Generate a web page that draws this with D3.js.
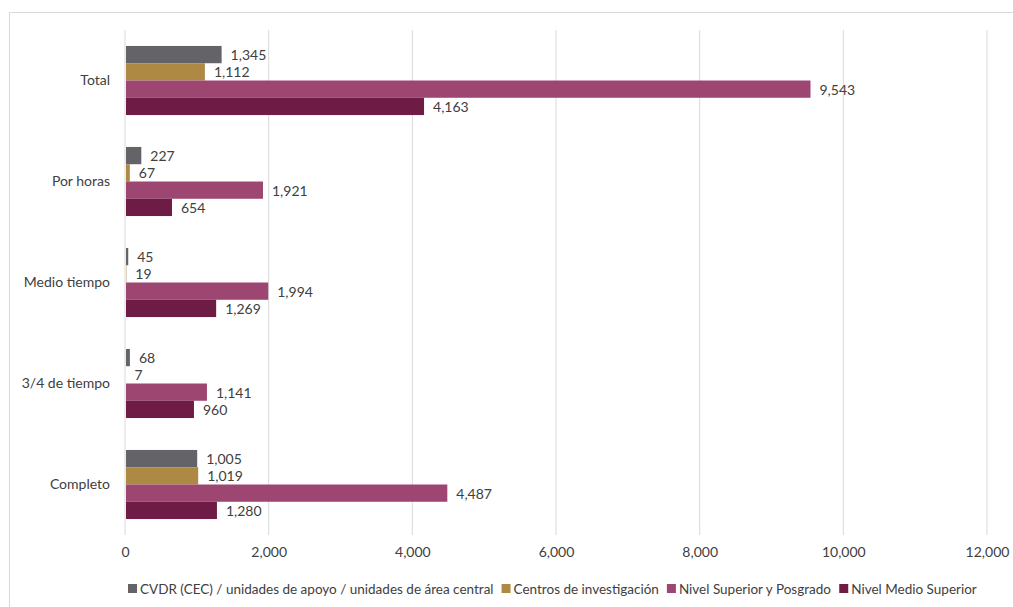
<!DOCTYPE html>
<html><head><meta charset="utf-8">
<script src="https://cdn.jsdelivr.net/npm/d3@7"></script>
<style>body{margin:0;background:#fff}svg{display:block}</style>
</head><body>
<svg id="c" width="1013" height="607"></svg>
<script>
const categories = ["Total","Por horas","Medio tiempo","3/4 de tiempo","Completo"];
const seriesNames = ["CVDR (CEC)  / unidades de apoyo / unidades de área central","Centros de investigación","Nivel Superior y Posgrado","Nivel Medio Superior"];
const seriesColors = ["#646367","#AD8944","#9E4672","#6E1B45"];
const cvdr = [1345,227,45,68,1005];
const centros = [1112,67,19,7,1019];
const superior = [9543,1921,1994,1141,4487];
const medio = [4163,654,1269,960,1280];
const xTicks = [0,2000,4000,6000,8000,10000,12000];
const values = [cvdr,centros,superior,medio];

const svg = d3.select("#c");
const font = "Lato, 'Open Sans', sans-serif";
const txt = "#404040";
svg.append("rect").attr("x",9.5).attr("y",12.5).attr("width",1100).attr("height",700)
  .attr("fill","none").attr("stroke","#d9d9d9");

const m = {l:125, r:987, t:30, b:535};
const x = d3.scaleLinear().domain([0,12000]).range([m.l,m.r]);
const y = d3.scaleBand().domain(categories).range([m.t,m.b]).paddingInner(0.316).paddingOuter(0.158);
const inner = d3.scaleBand().domain(d3.range(4)).range([0,y.bandwidth()]);

// grid
svg.append("g").selectAll("line").data(xTicks).join("line")
  .attr("x1",d=>x(d)).attr("x2",d=>x(d)).attr("y1",m.t).attr("y2",m.b)
  .attr("stroke","#d9d9d9").attr("stroke-width",1);

// x axis labels
const xAxis = d3.axisBottom(x).tickValues(xTicks).tickSize(0).tickPadding(0).tickFormat(d3.format(","));
const gx = svg.append("g").attr("transform",`translate(0,${m.b+12})`).call(xAxis);
gx.select(".domain").remove();
gx.selectAll("text").attr("font-family",font).attr("font-size",14).attr("fill",txt);

// y axis labels
const yAxis = d3.axisLeft(y).tickSize(0).tickPadding(15);
const gy = svg.append("g").attr("transform",`translate(${m.l},0)`).call(yAxis);
gy.select(".domain").remove();
gy.selectAll("text").attr("font-family",font).attr("font-size",14).attr("fill",txt);

// bars
const data = [];
categories.forEach((c,ci)=>values.forEach((arr,si)=>data.push({c,si,v:arr[ci]})));
const bars = svg.append("g");
bars.selectAll("rect").data(data).join("rect")
  .attr("x",x(0)+1).attr("y",d=>y(d.c)+inner(d.si)).attr("height",inner.bandwidth())
  .attr("width",d=>Math.max(0,x(d.v)-x(0)-1)).attr("fill",d=>seriesColors[d.si]);
bars.selectAll("text").data(data).join("text")
  .attr("x",d=>x(d.v)+9).attr("y",d=>y(d.c)+inner(d.si)+inner.bandwidth()/2)
  .attr("dy","0.4em").attr("font-family",font).attr("font-size",14).attr("fill",txt)
  .text(d=>d3.format(",")(d.v));

// legend
const lg = svg.append("g");
const items = lg.selectAll("g").data(seriesNames).join("g");
items.append("rect").attr("width",9).attr("height",9).attr("y",-5).attr("fill",(d,i)=>seriesColors[i]);
items.append("text").attr("x",12).attr("dy","0.35em").attr("font-family",font).attr("font-size",13.5)
  .attr("fill",txt).text(d=>d);
let cx = 0; const pos=[];
items.each(function(){ pos.push(cx); cx += this.getBBox().width + 8; });
const total = cx-8;
const start = 128;
items.attr("transform",(d,i)=>`translate(${start+pos[i]},589)`);
</script>
</body></html>
